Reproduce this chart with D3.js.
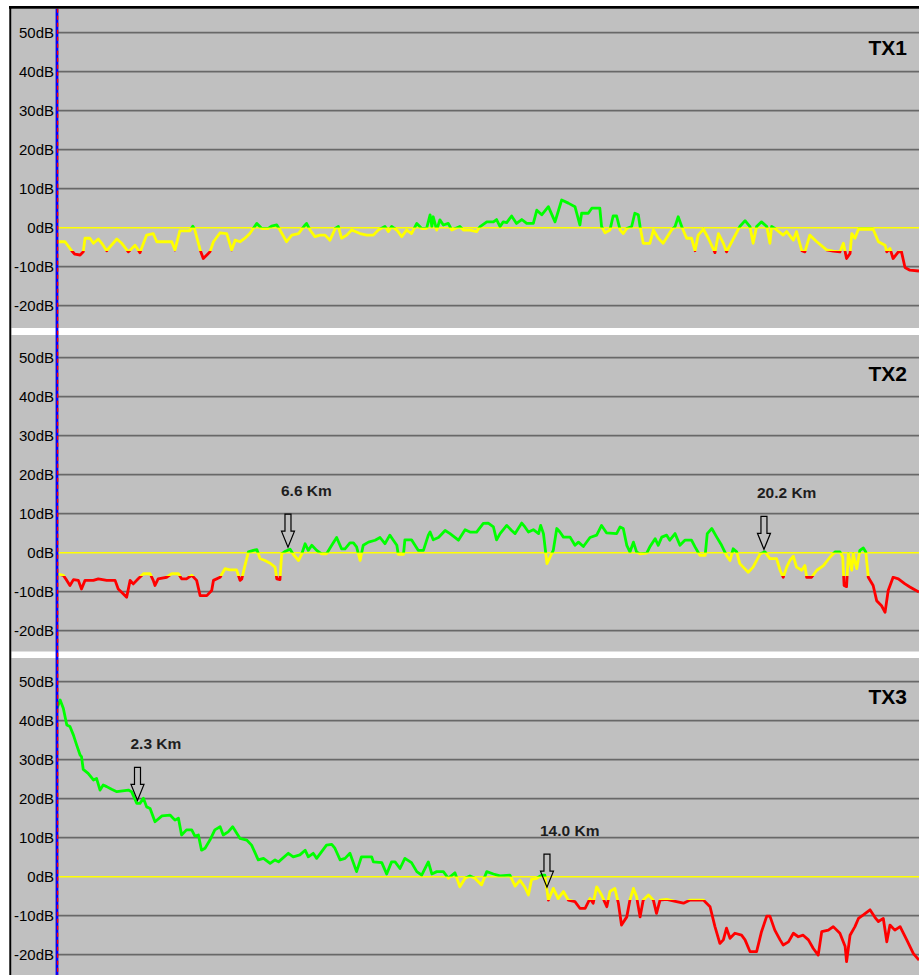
<!DOCTYPE html>
<html><head><meta charset="utf-8">
<script src="https://cdn.jsdelivr.net/npm/d3@7"></script>
<style>html,body{margin:0;padding:0;background:#fff;}svg{display:block;}</style>
</head><body>
<svg id="chart" width="919" height="975"></svg>
<script>
// ---------- data ----------
const panelNames = ["TX1", "TX2", "TX3"];
const dbTicks = [50, 40, 30, 20, 10, 0, -10, -20];
const dbDomain = [50, -20];
const kmDomain = [0, 24.63];
const thresholdRed = -6; // below this the signal is red, 0..-6 yellow, above 0 green

const tx1Km = [0,0.23,0.42,0.51,0.66,0.75,0.80,0.94,1.04,1.18,1.28,1.42,1.71,1.85,2.04,2.23,2.37,2.56,2.75,2.85,3.28,3.37,3.51,3.80,3.88,3.94,4.09,4.18,4.37,4.47,4.66,4.85,4.99,5.09,5.23,5.37,5.51,5.71,5.85,6.04,6.13,6.28,6.37,6.56,6.71,6.90,7.09,7.13,7.23,7.37,7.51,7.66,7.80,7.95,8.04,8.13,8.28,8.42,8.66,8.85,9.04,9.18,9.37,9.47,9.56,9.71,9.85,9.99,10.13,10.28,10.42,10.56,10.66,10.71,10.75,10.85,10.94,11.04,11.18,11.28,11.51,11.61,11.80,11.99,12.09,12.28,12.47,12.56,12.66,12.75,12.85,12.99,13.13,13.28,13.42,13.61,13.71,13.85,14.04,14.23,14.42,14.61,14.80,14.94,14.99,15.18,15.28,15.51,15.56,15.66,15.80,15.89,15.99,16.09,16.18,16.28,16.42,16.51,16.61,16.66,16.75,16.94,17.04,17.18,17.32,17.56,17.66,17.75,17.85,17.99,18.13,18.23,18.32,18.47,18.61,18.80,18.90,19.04,19.13,19.28,19.51,19.66,19.80,19.89,19.99,20.13,20.28,20.37,20.42,20.51,20.75,20.85,21.04,21.13,21.28,21.37,21.51,21.71,21.99,22.18,22.37,22.47,22.56,22.66,22.71,22.80,22.90,23.32,23.47,23.66,23.71,23.80,23.89,24.04,24.13,24.23,24.37,24.63];
const tx1Db = [-3.6,-3.6,-5.9,-6.8,-7.0,-6.2,-2.7,-2.7,-4.0,-2.9,-4.0,-5.9,-2.9,-4.0,-6.2,-4.5,-6.4,-1.9,-1.5,-3.6,-3.6,-5.7,-0.8,-0.8,0.4,-0.6,-5.7,-7.9,-6.2,-3.6,-1.3,-1.5,-5.7,-3.2,-3.6,-2.7,-1.5,1.1,-0.2,-0.2,0.4,0.7,-0.6,-3.6,-1.9,-1.5,0.7,1.1,-0.6,-2.3,-1.9,-1.9,-3.2,-0.2,0.3,-2.7,-1.9,-0.6,-1.5,-1.9,-1.9,-0.6,0.3,-1.0,0.3,-0.6,-2.3,-0.6,-1.5,1.1,-0.2,-0.2,3.3,0.3,2.8,-0.6,2.0,0.7,1.1,-0.6,0.3,-0.6,-0.6,-1.0,0.3,1.5,1.5,2.1,0.3,1.5,1.3,3.0,1.1,2.1,1.1,1.1,4.5,3.3,5.4,1.5,7.1,6.3,5.4,0.7,3.7,3.7,5.0,5.0,0.3,-1.3,-0.6,3.0,3.0,-0.6,-1.5,-0.2,0.3,3.7,3.3,0.3,-4.0,-4.0,-0.6,-2.7,-4.0,-0.6,0.3,2.8,0.3,-2.7,-2.7,-5.9,-1.9,-0.4,-2.7,-6.4,-1.5,-4.0,-6.2,-3.6,0.3,1.8,0.3,-4.0,0.3,1.5,0.3,-4.0,0.3,-0.2,-1.9,-1.0,-3.2,-1.0,-5.9,-6.2,-1.9,-3.6,-5.7,-6.0,-6.2,-4.0,-7.9,-6.6,-1.5,-2.7,-0.4,-0.4,-3.6,-4.5,-6.2,-5.3,-7.9,-6.2,-6.2,-10.2,-10.9,-11.1];

const tx2Km = [0,0.18,0.28,0.37,0.47,0.61,0.70,0.80,1.04,1.18,1.42,1.66,1.75,1.89,1.99,2.09,2.18,2.32,2.47,2.66,2.75,2.80,2.89,3.13,3.28,3.47,3.56,3.70,3.85,3.99,4.09,4.28,4.42,4.47,4.66,4.80,4.94,5.13,5.23,5.28,5.37,5.47,5.61,5.71,5.80,5.94,6.09,6.23,6.28,6.37,6.42,6.51,6.66,6.75,6.90,6.99,7.09,7.18,7.28,7.42,7.56,7.70,7.85,7.99,8.13,8.23,8.37,8.47,8.56,8.66,8.75,8.90,9.09,9.23,9.37,9.51,9.61,9.71,9.75,9.90,9.94,10.13,10.32,10.47,10.61,10.66,10.75,10.90,11.09,11.23,11.47,11.66,11.80,11.99,12.18,12.32,12.47,12.56,12.66,12.85,12.99,13.09,13.28,13.37,13.47,13.61,13.76,13.82,13.90,14.00,14.09,14.18,14.28,14.37,14.47,14.66,14.80,14.90,15.04,15.23,15.42,15.56,15.70,15.99,16.09,16.18,16.28,16.37,16.47,16.56,16.66,16.85,16.94,17.09,17.18,17.28,17.42,17.51,17.66,17.80,17.94,18.13,18.23,18.37,18.52,18.58,18.71,18.85,18.99,19.13,19.23,19.32,19.42,19.51,19.75,19.89,20.09,20.23,20.37,20.56,20.66,20.75,20.85,20.94,21.04,21.13,21.28,21.37,21.42,21.56,21.71,21.90,22.09,22.23,22.37,22.45,22.49,22.56,22.61,22.71,22.75,22.85,22.94,23.04,23.11,23.18,23.32,23.42,23.56,23.66,23.75,23.89,24.04,24.23,24.37,24.47,24.63];
const tx2Db = [-5.4,-5.8,-7.1,-8.4,-6.9,-7.1,-9.3,-7.1,-7.1,-6.7,-7.1,-7.1,-9.3,-10.5,-11.4,-7.1,-8.0,-6.7,-5.4,-5.4,-7.1,-8.4,-6.7,-6.3,-5.4,-5.4,-6.7,-6.7,-5.8,-7.1,-11.0,-11.0,-9.7,-7.1,-6.3,-4.1,-4.4,-4.4,-7.1,-6.7,-3.3,0.2,0.6,0.8,-1.5,-2.0,-2.7,-3.7,-6.7,-6.9,-0.3,0.3,0.9,-0.4,-2.0,-0.4,2.3,0.6,1.9,0.6,-0.3,-0.3,1.9,3.9,1.0,1.0,2.5,2.5,1.5,-2.0,1.9,2.7,3.2,3.9,2.3,4.5,3.2,1.9,-0.4,-0.4,3.3,3.3,0.6,0.6,4.5,5.3,3.3,3.9,5.7,4.9,3.2,5.9,5.3,5.3,7.5,7.6,6.6,3.3,4.9,7.0,5.7,4.9,7.6,6.6,5.3,5.9,4.9,7.0,4.9,-2.8,-1.1,0.6,6.2,5.3,4.0,4.0,1.9,2.7,1.6,3.9,4.5,7.0,5.1,4.9,6.6,6.2,1.9,0.2,2.7,0.2,-0.3,-0.1,1.5,3.6,1.9,4.0,4.5,3.2,4.9,1.9,3.2,3.2,1.5,-0.7,-0.7,4.9,6.2,4.0,1.9,-0.7,-2.0,1.0,0.2,-2.8,-5.0,-3.7,-0.3,0.2,-1.5,-1.5,-4.5,-6.3,-3.7,-2.0,-0.9,-3.7,-4.5,-3.3,-6.3,-6.3,-4.5,-3.3,-1.1,0.2,0.2,-1.1,-8.4,-8.7,-0.3,-4.5,-0.3,-4.1,0.6,1.2,0.2,-6.3,-8.4,-12.3,-13.6,-15.3,-9.7,-6.3,-6.7,-8.0,-8.8,-9.3,-10.1];

const tx3Km = [0,0.09,0.18,0.28,0.37,0.47,0.56,0.66,0.70,0.75,0.89,1.04,1.13,1.23,1.32,1.42,1.56,1.71,2.04,2.13,2.28,2.37,2.47,2.56,2.66,2.80,3.00,3.23,3.37,3.47,3.56,3.70,3.85,3.94,4.04,4.13,4.23,4.37,4.51,4.66,4.75,4.89,5.02,5.23,5.42,5.56,5.75,5.90,6.09,6.23,6.33,6.61,6.75,6.94,7.09,7.18,7.32,7.42,7.70,7.85,7.94,8.09,8.23,8.37,8.56,8.70,8.99,9.04,9.28,9.42,9.56,9.66,9.80,9.94,10.13,10.28,10.42,10.61,10.71,10.85,11.04,11.18,11.37,11.51,11.66,11.80,11.94,12.13,12.28,12.47,12.66,12.94,13.09,13.23,13.37,13.47,13.56,13.71,13.85,13.94,14.04,14.18,14.32,14.47,14.61,14.80,14.94,15.09,15.23,15.32,15.42,15.56,15.71,15.80,15.94,16.04,16.13,16.28,16.37,16.47,16.56,16.66,16.75,16.90,17.04,17.13,17.23,17.42,17.70,17.90,18.09,18.47,18.66,18.80,18.94,19.04,19.13,19.23,19.37,19.56,19.66,19.80,19.99,20.13,20.28,20.37,20.51,20.66,20.75,20.90,21.04,21.18,21.32,21.47,21.61,21.75,21.85,22.04,22.18,22.37,22.52,22.56,22.66,22.80,22.90,23.04,23.23,23.37,23.47,23.61,23.71,23.80,23.94,24.09,24.28,24.47,24.63];
const tx3Db = [43.2,45.3,43.2,38.9,38.5,36.3,33.8,31.2,30.8,27.5,26.5,24.8,25.2,22.2,23.5,23.1,22.4,21.8,22.2,21.8,18.8,18.8,20.1,17.9,17.5,14.1,15.6,15.8,14.5,15.0,10.7,12.0,12.0,10.4,10.7,6.8,7.3,9.4,12.0,12.8,10.7,11.5,12.8,9.8,9.4,8.1,4.3,4.7,3.4,4.3,3.8,6.0,5.1,5.6,6.8,5.1,6.0,4.7,8.1,8.3,7.3,4.3,4.7,6.0,1.3,5.1,5.1,3.8,3.6,0.7,3.8,3.8,2.1,4.7,3.6,1.3,0.4,3.8,0.7,1.3,1.3,-0.4,1.0,-2.6,-0.4,0.2,-0.4,-2.1,1.3,0.7,0.2,0.4,-2.4,-0.9,-2.7,-4.7,-0.7,-0.4,0.4,0.4,-6.0,-3.0,-5.6,-3.8,-6.0,-6.4,-8.1,-8.1,-5.6,-6.8,-2.6,-4.7,-7.7,-3.8,-3.0,-6.8,-12.4,-10.3,-6.0,-3.0,-5.1,-10.3,-6.0,-4.7,-6.0,-9.4,-6.0,-5.8,-6.4,-6.8,-6.0,-6.0,-7.7,-12.8,-17.1,-16.2,-13.2,-15.8,-14.5,-15.0,-16.2,-19.2,-19.2,-14.1,-10.1,-10.1,-13.7,-16.2,-17.5,-16.7,-14.5,-15.4,-15.0,-16.2,-18.4,-20.1,-14.1,-13.7,-12.8,-14.5,-17.9,-21.8,-15.0,-12.8,-10.7,-9.8,-8.5,-10.4,-11.5,-10.7,-16.7,-12.4,-13.7,-12.8,-16.2,-19.7,-21.4];

const seriesKm = [tx1Km, tx2Km, tx3Km];
const seriesDb = [tx1Db, tx2Db, tx3Db];
const markerKm = [[], [6.6, 20.2], [2.3, 14.0]];
const markerLabels = [[], ["6.6 Km", "20.2 Km"], ["2.3 Km", "14.0 Km"]];

// ---------- layout ----------
const W = 919, H = 975;
const axisX = 57;
const panelTops = [8.7, 335, 658];
const panelBottoms = [328, 651.5, 975];
const db50Y = [32.7, 357.7, 681.7];
const dbSpan = 273; // pixels from 50dB to -20dB
const FONT = "'Liberation Sans', Arial, sans-serif";

const svg = d3.select("#chart");
svg.append("rect").attr("width", W).attr("height", H).attr("fill", "#ffffff");

const x = d3.scaleLinear().domain(kmDomain).range([axisX, W]);
const defs = svg.append("defs");

panelNames.forEach((name, p) => {
  const top = panelTops[p], bottom = panelBottoms[p];
  const y = d3.scaleLinear().domain(dbDomain).range([db50Y[p], db50Y[p] + dbSpan]);
  const g = svg.append("g");

  g.append("rect").attr("x", 11.3).attr("y", top).attr("width", W - 11.3).attr("height", bottom - top).attr("fill", "#c0c0c0");

  // grid lines
  g.selectAll("line.grid").data(dbTicks.filter(d => d !== 0)).enter().append("line")
    .attr("x1", axisX).attr("x2", W)
    .attr("y1", d => y(d)).attr("y2", d => y(d))
    .attr("stroke", "#686868").attr("stroke-width", 1.8);
  // zero line
  g.append("line").attr("x1", axisX).attr("x2", W).attr("y1", y(0)).attr("y2", y(0))
    .attr("stroke", "#ffff00").attr("stroke-width", 1.6);

  // tick labels
  g.selectAll("text.tick").data(dbTicks).enter().append("text")
    .attr("x", 54).attr("y", d => y(d)).attr("dy", "0.36em")
    .attr("text-anchor", "end").attr("font-family", FONT).attr("font-size", 15)
    .attr("fill", "#000").text(d => d + "dB");

  // coloured signal via clip bands
  const bands = [
    { c: "#00ff00", y0: top, y1: y(0) },
    { c: "#ffff00", y0: y(0), y1: y(thresholdRed) },
    { c: "#ff0000", y0: y(thresholdRed), y1: bottom }
  ];
  const pts = seriesKm[p].map((k, i) => [k, seriesDb[p][i]]);
  const line = d3.line().x(d => x(d[0])).y(d => y(d[1]));
  bands.forEach((b, bi) => {
    const id = `clip${p}_${bi}`;
    defs.append("clipPath").attr("id", id).append("rect")
      .attr("x", axisX).attr("y", b.y0).attr("width", W - axisX).attr("height", Math.max(0, b.y1 - b.y0));
    g.append("path").datum(pts).attr("d", line).attr("fill", "none")
      .attr("stroke", b.c).attr("stroke-width", 2.8).attr("stroke-linejoin", "round")
      .attr("clip-path", `url(#${id})`);
  });

  // markers
  markerKm[p].forEach((k, mi) => {
    const ks = seriesKm[p], ds = seriesDb[p];
    const i = d3.bisectLeft(ks, k);
    const t = (k - ks[i - 1]) / (ks[i] - ks[i - 1]);
    const v = ds[i - 1] + t * (ds[i] - ds[i - 1]);
    const cx = x(k), tip = y(v) - 3, topA = tip - 33;
    const path = `M${cx - 3},${topA} L${cx + 3},${topA} L${cx + 3},${topA + 17} L${cx + 6.5},${topA + 17} L${cx},${tip} L${cx - 6.5},${topA + 17} L${cx - 3},${topA + 17} Z`;
    g.append("path").attr("d", path).attr("fill", "none").attr("stroke", "#000").attr("stroke-width", 1.2);
    g.append("text").attr("x", cx - 7).attr("y", topA - 18)
      .attr("font-family", FONT).attr("font-size", 15.5).attr("font-weight", "bold")
      .attr("fill", "#1e1e1e").text(markerLabels[p][mi]);
  });

  // title
  g.append("text").attr("x", 907).attr("y", top + 46).attr("text-anchor", "end")
    .attr("font-family", FONT).attr("font-size", 21).attr("font-weight", "bold")
    .attr("fill", "#000").text(name);
});

// vertical cursor line (blue with red dashes)
svg.append("line").attr("x1", axisX).attr("x2", axisX).attr("y1", 8.7).attr("y2", H)
  .attr("stroke", "#0000ff").attr("stroke-width", 2.8);
svg.append("line").attr("x1", axisX + 0.6).attr("x2", axisX + 0.6).attr("y1", 8.7).attr("y2", H)
  .attr("stroke", "#ff0000").attr("stroke-width", 1.4).attr("stroke-dasharray", "4,3");

// frame
svg.append("line").attr("x1", 9).attr("x2", W).attr("y1", 7.4).attr("y2", 7.4).attr("stroke", "#000").attr("stroke-width", 2.6);
svg.append("line").attr("x1", 10.3).attr("x2", 10.3).attr("y1", 6).attr("y2", H).attr("stroke", "#000").attr("stroke-width", 2);
</script>
</body></html>
